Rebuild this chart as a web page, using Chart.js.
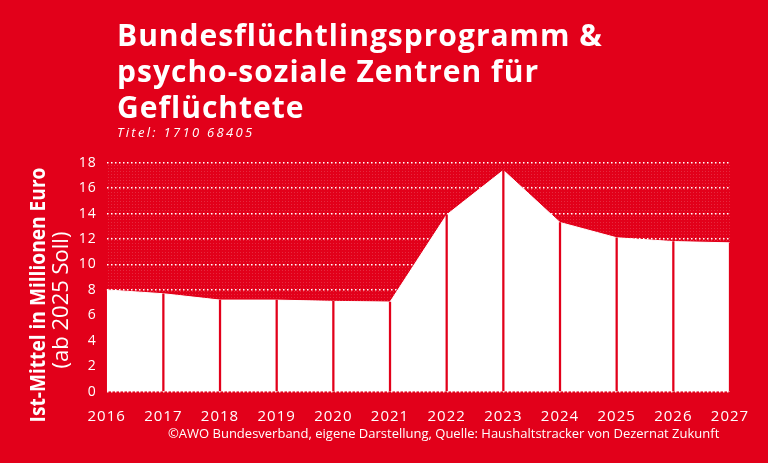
<!DOCTYPE html>
<html>
<head>
<meta charset="utf-8">
<script src="https://cdn.jsdelivr.net/npm/chart.js@4"></script>
<style>
  html, body { margin: 0; padding: 0; background: #e2001a; }
  #wrap { position: relative; width: 768px; height: 463px; overflow: hidden; background: #e2001a; color: #fff; }
  #chart { position: absolute; left: 0; top: 0; }
  .title { position: absolute; left: 117px; top: 17px; font-family: "Open Sans", sans-serif; font-weight: 700; font-size: 30px; line-height: 36px; letter-spacing: 1px; white-space: nowrap; }
  .sub { position: absolute; left: 117px; top: 123px; font-family: "Open Sans", sans-serif; font-style: italic; font-size: 13px; letter-spacing: 2.3px; }
  .yt { position: absolute; white-space: nowrap; font-family: "Open Sans", sans-serif; font-size: 22px; line-height: 22px; }
  .yt1 { left: 36px; top: 295px; font-weight: 700; transform: translate(-50%, -50%) rotate(-90deg) scaleX(0.87); }
  .yt2 { left: 59px; top: 300px; transform: translate(-50%, -50%) rotate(-90deg); }
  .foot { position: absolute; left: 168px; top: 424px; font-family: "Open Sans", sans-serif; font-size: 13px; white-space: nowrap; }
</style>
</head>
<body>
<div id="wrap">
  <canvas id="chart" width="768" height="463"></canvas>
  <div class="title">Bundesflüchtlingsprogramm &amp;<br>psycho-soziale Zentren für<br>Geflüchtete</div>
  <div class="sub">Titel: 1710 68405</div>
  <div class="yt yt1">Ist-Mittel in Millionen Euro</div>
  <div class="yt yt2">(ab 2025 Soll)</div>
  <div class="foot">©AWO Bundesverband, eigene Darstellung, Quelle: Haushaltstracker von Dezernat Zukunft</div>
</div>
<script>
const years = ['2016', '2017', '2018', '2019', '2020', '2021', '2022', '2023', '2024', '2025', '2026', '2027'];
const mittel = [8.0, 7.7, 7.2, 7.2, 7.1, 7.05, 13.9, 17.4, 13.3, 12.1, 11.8, 11.7];
const yTicks = [0, 2, 4, 6, 8, 10, 12, 14, 16, 18];

const RED = '#e2001a';

// dotted texture over the plot area, like the original graphic
const dots = document.createElement('canvas');
dots.width = 3; dots.height = 3;
const dctx = dots.getContext('2d');
dctx.fillStyle = 'rgba(255,255,255,0.16)';
dctx.fillRect(0, 0, 1, 1);

const texture = {
  id: 'texture',
  beforeDraw(chart) {
    chart.ctx.letterSpacing = '1px';
  },
  beforeDatasetsDraw(chart) {
    const { ctx, chartArea: a } = chart;
    ctx.save();
    ctx.fillStyle = ctx.createPattern(dots, 'repeat');
    ctx.fillRect(a.left, a.top, a.right - a.left, a.bottom - a.top);
    ctx.restore();
  }
};

const ctx = document.getElementById('chart').getContext('2d');
new Chart(ctx, {
  data: {
    labels: years,
    datasets: [
      {
        // thin red verticals at each year, standing on the white area
        type: 'bar',
        data: mittel,
        backgroundColor: c => c.dataIndex === 0 ? 'rgba(0,0,0,0)' : RED,
        barThickness: 1.6,
        order: 0
      },
      {
        type: 'line',
        data: mittel,
        borderColor: '#fff',
        borderWidth: 1,
        backgroundColor: '#fff',
        fill: 'origin',
        pointRadius: 0,
        tension: 0,
        order: 1
      }
    ]
  },
  plugins: [texture],
  options: {
    responsive: false,
    animation: false,
    events: [],
    layout: { padding: { left: 0, right: 38, top: 162.7, bottom: 41.3 } },
    plugins: { legend: { display: false }, tooltip: { enabled: false } },
    scales: {
      x: {
        offset: false,
        grid: { display: false },
        border: { display: false },
        ticks: { color: '#fff', font: { family: 'Open Sans', size: 15 }, padding: 8, maxRotation: 0, autoSkip: false },
        afterFit(s) { s.height = 30; }
      },
      y: {
        min: 0,
        max: 18,
        afterBuildTicks(s) { s.ticks = yTicks.map(v => ({ value: v })); },
        grid: { color: '#fff', lineWidth: 1.5, drawTicks: false },
        border: { display: false, dash: [1.5, 2.5] },
        ticks: { color: '#fff', font: { family: 'Open Sans', size: 14 }, padding: 10 },
        afterFit(s) { s.width = 106.7; }
      }
    }
  }
});
</script>
</body>
</html>
